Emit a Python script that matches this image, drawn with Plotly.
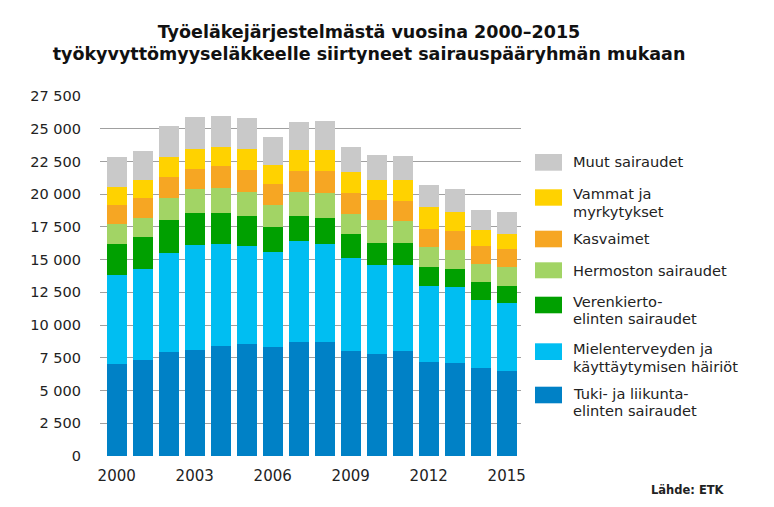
import plotly.graph_objects as go

years = list(range(2000, 2016))
tick_years = [2000, 2003, 2006, 2009, 2012, 2015]
y_ticks = list(range(0, 27501, 2500))

tuki = [7060, 7360, 7930, 8100, 8410, 8580, 8330, 8710, 8690, 8000, 7800, 8020, 7160, 7130, 6710, 6500]
mielen = [6730, 6890, 7540, 8020, 7770, 7470, 7220, 7700, 7540, 7130, 6780, 6550, 5810, 5750, 5230, 5180]
veren = [2440, 2460, 2540, 2440, 2420, 2290, 1980, 1930, 1980, 1810, 1700, 1700, 1430, 1390, 1330, 1300]
hermo = [1530, 1500, 1730, 1810, 1870, 1830, 1680, 1810, 1910, 1520, 1710, 1650, 1550, 1500, 1390, 1450]
kasv = [1400, 1530, 1600, 1520, 1650, 1680, 1570, 1600, 1620, 1600, 1550, 1580, 1370, 1420, 1370, 1390]
vamm = [1370, 1340, 1470, 1550, 1450, 1600, 1480, 1600, 1600, 1600, 1550, 1580, 1680, 1430, 1240, 1170]
muut = [2310, 2210, 2420, 2440, 2440, 2390, 2130, 2160, 2230, 1980, 1900, 1850, 1680, 1780, 1550, 1680]

names = [
    "Tuki- ja liikunta-<br>elinten sairaudet",
    "Mielenterveyden ja<br>käyttäytymisen häiriöt",
    "Verenkierto-<br>elinten sairaudet",
    "Hermoston sairaudet",
    "Kasvaimet",
    "Vammat ja<br>myrkytykset",
    "Muut sairaudet",
]
series = [tuki, mielen, veren, hermo, kasv, vamm, muut]
colors = ["#0081c6", "#00bef2", "#00a000", "#a2d465", "#f6a623", "#ffd200", "#c9c9c9"]

title_text = "Työeläkejärjestelmästä vuosina 2000–2015<br>työkyvyttömyyseläkkeelle siirtyneet sairauspääryhmän mukaan"
source_text = "Lähde: ETK"

FONT = "DejaVu Sans"
W, H = 774, 507
L, R, T, B = 100, 521, 96, 456

fig = go.Figure()
for name, vals, col in zip(names, series, colors):
    fig.add_trace(go.Bar(
        x=years, y=vals, name=name, marker=dict(color=col, line=dict(width=0)),
        width=0.77, showlegend=False,
    ))

def px2paper(px, py):
    return (px - L) / (R - L), (B - py) / (B - T)

# custom legend (bottom to top): swatch top/bottom and text line centres in pixels
legend_pos = [
    (386.7, 403.3, [393.3, 410.8]),
    (343.3, 360.0, [348.5, 366.0]),
    (296.7, 313.3, [301.0, 318.5]),
    (262.3, 278.3, [270.7]),
    (230.7, 247.3, [238.3]),
    (189.3, 205.7, [193.3, 211.0]),
    (154.0, 170.7, [161.7]),
]
shapes = []
annotations = []
for name, col, (st, sb, centres) in zip(names, colors, legend_pos):
    x0, y0 = px2paper(535, sb)
    x1, y1 = px2paper(562, st)
    shapes.append(dict(type="rect", xref="paper", yref="paper", x0=x0, x1=x1, y0=y0, y1=y1,
                       fillcolor=col, line=dict(width=0)))
    for line, tc in zip(name.split("<br>"), centres):
        tx, ty = px2paper(571, tc)
        annotations.append(dict(xref="paper", yref="paper", x=tx, y=ty, text=line, showarrow=False,
                                xanchor="left", yanchor="middle", align="left",
                                font=dict(family=FONT, size=14.6, color="#222222")))

annotations.append(dict(xref="paper", yref="paper", x=px2paper(727, 0)[0], y=px2paper(0, 490)[1],
                        text="<b>" + source_text + "</b>", showarrow=False, xanchor="right",
                        yanchor="middle", font=dict(family=FONT, size=11.5, color="#222222")))

fig.update_layout(
    width=W, height=H,
    barmode="stack",
    bargap=0,
    separators=", ",
    paper_bgcolor="white",
    plot_bgcolor="white",
    margin=dict(l=L, r=W - R, t=T, b=H - B, pad=0),
    title=dict(text="<b>" + title_text + "</b>", x=369 / W, xref="container", xanchor="center",
               y=1 - 37.5 / H, yref="container", yanchor="middle",
               font=dict(family=FONT, size=17.5, color="#111111")),
    font=dict(family=FONT, size=14, color="#222222"),
    shapes=shapes,
    annotations=annotations,
    xaxis=dict(range=[1999.358, 2015.55], tickvals=tick_years, ticks="", showgrid=False,
               zeroline=False, showline=False, tickfont=dict(family=FONT, size=15, color="#222222"),
               ticklabelstandoff=9),
    yaxis=dict(range=[0, 27500], tickvals=y_ticks, tickformat=",d", showgrid=True,
               gridcolor="#a0a0a0", gridwidth=1, zeroline=False, showline=False, ticks="",
               tickfont=dict(family=FONT, size=14.5, color="#222222"), ticklabelstandoff=18),
)

fig.write_html("out.html", config={"displayModeBar": False},
               post_script="document.body.style.margin='0';")
